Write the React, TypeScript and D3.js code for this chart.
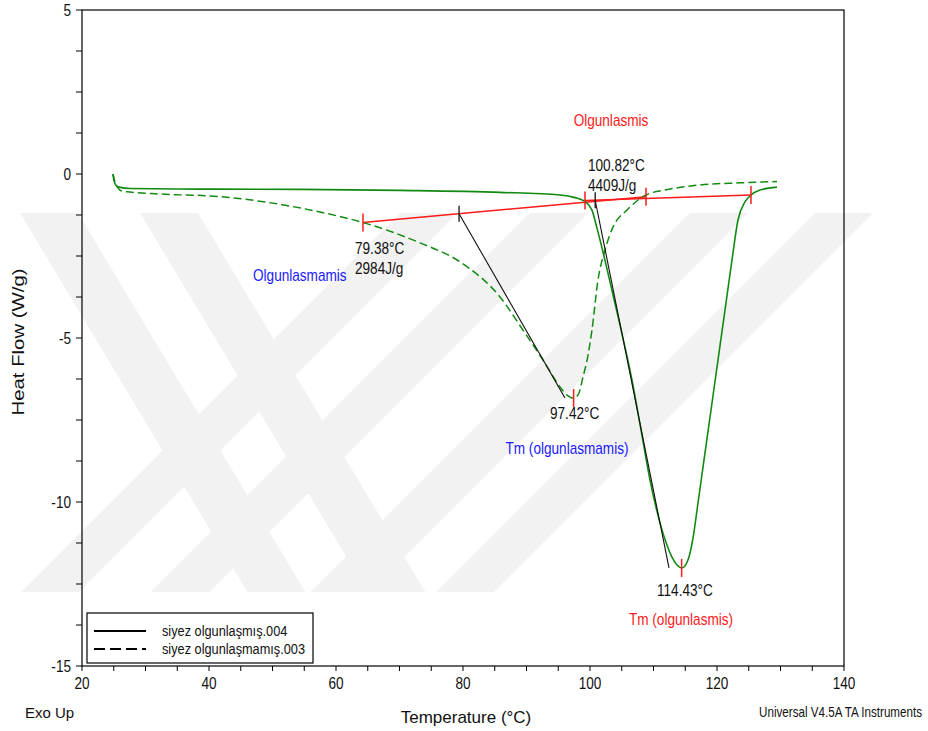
import React, { useEffect, useRef } from 'react';
import * as d3 from 'd3';

// siyez olgunlaşmış.004 (solid)
const solidTemp = [24.88, 25.04, 25.35, 25.83, 27.56, 38.58, 54.33, 70.08, 85.83, 95.28, 97.64, 99.21, 100.31, 101.1, 102.05, 103.15, 104.72, 106.61, 108.03, 109.45, 111.34, 112.91, 113.7, 114.49, 115.43, 116.22, 117.01, 117.8, 118.9, 120.16, 121.26, 122.36, 123.31, 124.41, 125.35, 126.77, 129.45];
const solidFlow = [0, -0.21, -0.34, -0.4, -0.44, -0.46, -0.47, -0.5, -0.56, -0.64, -0.72, -0.84, -1.1, -1.65, -2.38, -3.29, -4.6, -6.28, -7.8, -9.33, -10.85, -11.68, -11.92, -12.01, -11.77, -11.1, -10.03, -8.93, -7.41, -5.67, -4.15, -2.62, -1.4, -0.85, -0.64, -0.49, -0.4];

// siyez olgunlaşmamış.003 (dashed)
const dashedTemp = [24.88, 25.2, 25.67, 26.3, 27.56, 32.28, 41.73, 50.71, 57.48, 64.25, 73.23, 79.53, 85.83, 89.45, 92.6, 95.28, 96.38, 97.32, 98.11, 98.9, 99.69, 100.31, 101.26, 102.36, 103.62, 105.83, 108.82, 112.6, 117.01, 123.62, 129.45];
const dashedFlow = [0, -0.24, -0.43, -0.52, -0.55, -0.61, -0.69, -0.91, -1.16, -1.48, -2.1, -2.68, -3.75, -4.76, -5.67, -6.49, -6.74, -6.83, -6.74, -6.19, -5.52, -4.76, -3.23, -2.32, -1.62, -1.1, -0.64, -0.46, -0.34, -0.27, -0.23];

// integration baselines [start, end]
const baselineTemps = [[64.25, 108.82], [99.21, 125.35]];
const baselineFlows = [[-1.48, -0.69], [-0.81, -0.64]];

// peak temperatures
const peakTemps = [97.42, 114.43];
const peakFlows = [-6.83, -12.01];

// partial-area cut lines: from baseline point down to the peak level
const cutTemps = [[79.38, 96.06], [100.82, 112.44]];
const cutFlows = [[-1.21, -6.83], [-0.8, -12.01]];

const xTicks = [20, 40, 60, 80, 100, 120, 140];
const yTicks = [5, 0, -5, -10, -15];

const legendNames = ['siyez olgunlaşmış.004', 'siyez olgunlaşmamış.003'];

const GREEN = '#118a11';
const RED = '#ff1a1a';
const FONT = '"Liberation Sans", Arial, sans-serif';

const App: React.FC = () => {
  const svgRef = useRef<SVGSVGElement>(null);

  useEffect(() => {
    const svg = d3.select(svgRef.current);
    svg.selectAll('*').remove();

    const W = 928, H = 731;
    svg.attr('width', W).attr('height', H);

    const x = d3.scaleLinear().domain([20, 140]).range([82, 844]);
    const y = d3.scaleLinear().domain([-15, 5]).range([666, 10]);

    const txt = (gx: number, gy: number, s: string, size: number, sx: number, anchor: string, fill = '#111') =>
      svg.append('text')
        .attr('transform', `translate(${gx},${gy}) scale(${sx},1)`)
        .attr('text-anchor', anchor)
        .attr('font-family', FONT)
        .attr('font-size', size)
        .attr('fill', fill)
        .text(s);

    // watermark (faint chevron bands)
    const wm = svg.append('g').attr('fill', '#f2f2f2');
    const top = 213, bot = 592, h = bot - top;
    const slash = [400, 530, 690, 815];
    slash.forEach(x0 => {
      wm.append('polygon').attr('points', `${x0},${top} ${x0 + 58},${top} ${x0 + 58 - h},${bot} ${x0 - h},${bot}`);
    });
    const back = [20, 140];
    back.forEach(x0 => {
      wm.append('polygon').attr('points', `${x0},${top} ${x0 + 58},${top} ${x0 + 58 + h * 0.6},${bot} ${x0 + h * 0.6},${bot}`);
    });

    // frame
    svg.append('rect')
      .attr('x', 82).attr('y', 10).attr('width', 762).attr('height', 656)
      .attr('fill', 'none').attr('stroke', '#000').attr('stroke-width', 1.2);

    // ticks
    const axes = svg.append('g').attr('stroke', '#000').attr('stroke-width', 1);
    d3.range(-15, 5.01, 1.25).forEach(v => {
      axes.append('line').attr('x1', 76).attr('x2', 82).attr('y1', y(v)).attr('y2', y(v));
    });
    d3.range(20, 140.1, 5).forEach(t => {
      axes.append('line').attr('x1', x(t)).attr('x2', x(t)).attr('y1', 666).attr('y2', 671);
    });
    yTicks.forEach(v => txt(71, y(v) + 6, String(v), 17, 0.8, 'end'));
    xTicks.forEach(t => txt(x(t), 689, String(t), 17, 0.8, 'middle'));

    // axis titles
    svg.append('text')
      .attr('transform', `translate(24,342) rotate(-90)`)
      .attr('text-anchor', 'middle')
      .attr('font-family', FONT).attr('font-size', 17)
      .attr('textLength', 147).attr('lengthAdjust', 'spacingAndGlyphs')
      .attr('fill', '#111')
      .text('Heat Flow (W/g)');
    txt(466, 723, 'Temperature (°C)', 17, 1, 'middle');
    txt(25, 718, 'Exo Up', 15, 1, 'start');
    txt(922, 717, 'Universal V4.5A TA Instruments', 14, 0.83, 'end');

    const line = d3.line<[number, number]>()
      .x(d => x(d[0]))
      .y(d => y(d[1]))
      .curve(d3.curveMonotoneX);

    // baselines
    baselineTemps.forEach((ts, i) => {
      svg.append('line')
        .attr('x1', x(ts[0])).attr('y1', y(baselineFlows[i][0]))
        .attr('x2', x(ts[1])).attr('y2', y(baselineFlows[i][1]))
        .attr('stroke', RED).attr('stroke-width', 1.5);
    });

    // curves
    svg.append('path')
      .attr('d', line(dashedTemp.map((t, i) => [t, dashedFlow[i]] as [number, number])))
      .attr('fill', 'none').attr('stroke', GREEN).attr('stroke-width', 1.5)
      .attr('stroke-dasharray', '8,4');
    svg.append('path')
      .attr('d', line(solidTemp.map((t, i) => [t, solidFlow[i]] as [number, number])))
      .attr('fill', 'none').attr('stroke', GREEN).attr('stroke-width', 1.6);

    // cut lines
    cutTemps.forEach((ts, i) => {
      svg.append('line')
        .attr('x1', x(ts[0])).attr('y1', y(cutFlows[i][0]))
        .attr('x2', x(ts[1])).attr('y2', y(cutFlows[i][1]))
        .attr('stroke', '#111').attr('stroke-width', 1.1);
      svg.append('line')
        .attr('x1', x(ts[0])).attr('x2', x(ts[0]))
        .attr('y1', y(cutFlows[i][0]) - 8).attr('y2', y(cutFlows[i][0]) + 8)
        .attr('stroke', '#111').attr('stroke-width', 1.3);
    });

    // red markers
    const redTick = (t: number, v: number) =>
      svg.append('line')
        .attr('x1', x(t)).attr('x2', x(t))
        .attr('y1', y(v) - 9).attr('y2', y(v) + 9)
        .attr('stroke', RED).attr('stroke-width', 1.5);
    baselineTemps.forEach((ts, i) => {
      redTick(ts[0], baselineFlows[i][0]);
      redTick(ts[1], baselineFlows[i][1]);
    });
    peakTemps.forEach((t, i) => redTick(t, peakFlows[i]));

    // annotations
    txt(611, 126, 'Olgunlasmis', 16, 0.85, 'middle', RED);
    txt(588, 171, '100.82°C', 16, 0.85, 'start');
    txt(588, 191, '4409J/g', 16, 0.85, 'start');
    txt(355, 254, '79.38°C', 16, 0.85, 'start');
    txt(355, 274, '2984J/g', 16, 0.85, 'start');
    txt(253, 281, 'Olgunlasmamis', 16, 0.85, 'start', '#1a1aff');
    txt(550, 419, `${peakTemps[0]}°C`, 16, 0.85, 'start');
    txt(567, 454, 'Tm (olgunlasmamis)', 16, 0.85, 'middle', '#1a1aff');
    txt(657, 596, `${peakTemps[1]}°C`, 16, 0.85, 'start');
    txt(681, 625, 'Tm (olgunlasmis)', 16, 0.85, 'middle', RED);

    // legend
    const lg = svg.append('g');
    lg.append('rect').attr('x', 87).attr('y', 613).attr('width', 226).attr('height', 50)
      .attr('fill', '#fff').attr('stroke', '#000').attr('stroke-width', 1.2);
    legendNames.forEach((name, i) => {
      const ly = 631 + i * 18;
      lg.append('line').attr('x1', 94).attr('x2', 146).attr('y1', ly).attr('y2', ly)
        .attr('stroke', '#000').attr('stroke-width', 2)
        .attr('stroke-dasharray', i === 1 ? '11,5' : null);
      txt(162, ly + 5, name, 15, 0.85, 'start');
    });
  }, []);

  return <svg ref={svgRef} style={{ position: 'absolute', left: 0, top: 0, background: '#fff' }} />;
};

export default App;
